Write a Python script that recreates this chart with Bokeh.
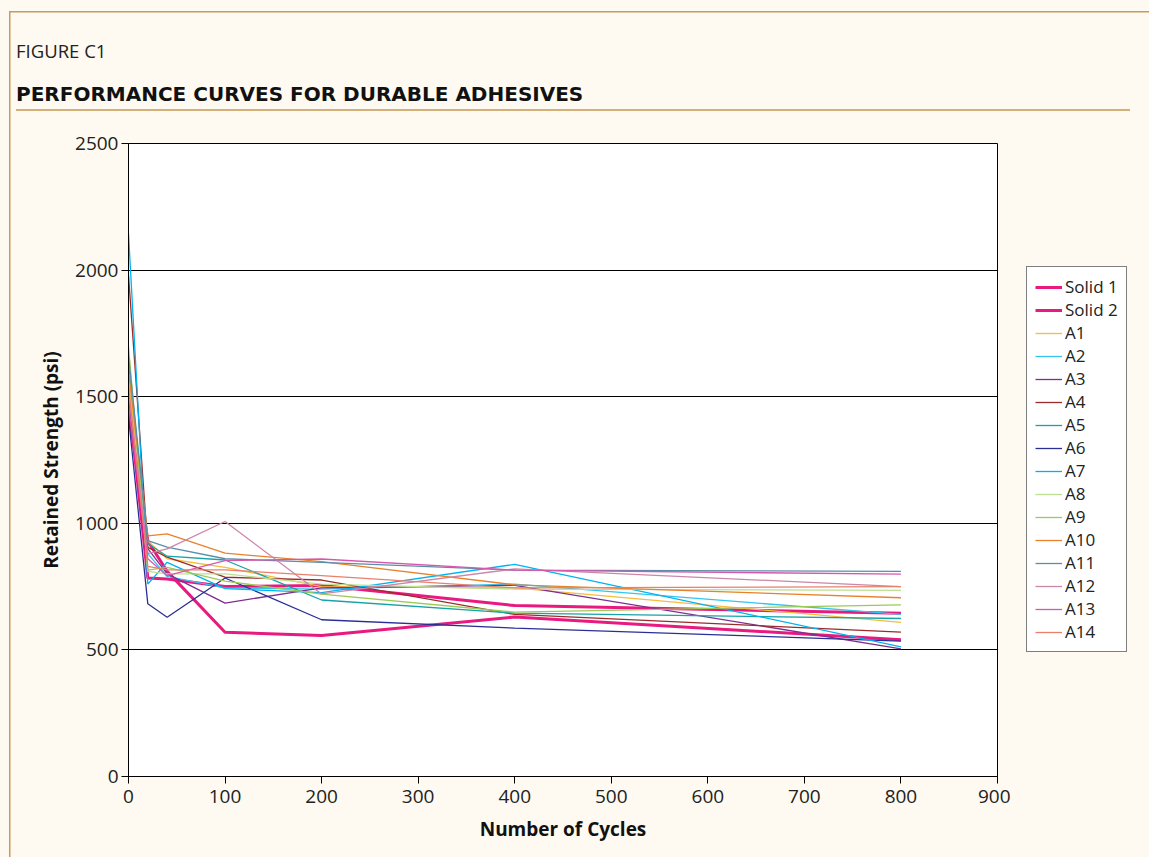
from bokeh.plotting import figure
from bokeh.layouts import column, row
from bokeh.models import Range1d, SingleIntervalTicker, Legend, LegendItem, Div
from bokeh.embed import file_html
from bokeh.resources import INLINE

# ---------------- data ----------------
cycles = [0, 20, 40, 100, 200, 400, 800]
solid1 = [1450, 930, 810, 570, 557, 630, 540]
solid2 = [1500, 784, 780, 750, 754, 675, 645]
a1 = [1560, 930, 860, 826, 750, 745, 609]
a2 = [1650, 880, 790, 745, 740, 760, 640]
a3 = [1480, 900, 800, 685, 745, 755, 504]
a4 = [1979, 905, 866, 787, 776, 640, 570]
a5 = [1640, 920, 870, 855, 697, 645, 624]
a6 = [1420, 682, 629, 784, 619, 586, 535]
a7 = [2144, 760, 846, 742, 726, 838, 512]
a8 = [1700, 810, 800, 800, 760, 740, 735]
a9 = [1690, 815, 826, 772, 720, 649, 678]
a10 = [1600, 950, 958, 882, 849, 757, 706]
a11 = [1660, 932, 906, 860, 846, 815, 810]
a12 = [1520, 880, 899, 1007, 721, 820, 750]
a13 = [1470, 860, 793, 853, 859, 815, 799]
a14 = [1540, 830, 816, 816, 793, 745, 750]

series_names = ["Solid 1", "Solid 2", "A1", "A2", "A3", "A4", "A5", "A6", "A7",
                "A8", "A9", "A10", "A11", "A12", "A13", "A14"]
series_values = [solid1, solid2, a1, a2, a3, a4, a5, a6, a7, a8, a9, a10, a11, a12, a13, a14]
series_colors = ["#e8197f", "#e8197f", "#f5bd3a", "#35c4f0", "#7e2f8e", "#9a2b2b",
                 "#17a2a6", "#2a2f96", "#00b2f0", "#bddf91", "#9acb56", "#e8822c",
                 "#5b8ea8", "#cc86a8", "#d658ac", "#e8806c"]
series_widths = [3, 3] + [1.3] * 14

FONT = "Open Sans"
CREAM = "#fefaf1"
FRAME = "#c99a5a"
W = 1149
HEADER_H = 125
TOTAL_H = 857
CHART_H = TOTAL_H - HEADER_H
CHART_W = 1010

# ---------------- header ----------------
header_html = (
    f'<div style="position:relative;width:{W}px;height:{HEADER_H}px;">'
    '<div style="position:absolute;left:16px;top:40px;font-family:\'Open Sans\';'
    'font-size:18.5px;line-height:22px;color:#222;white-space:nowrap;">FIGURE C1</div>'
    '<div style="position:absolute;left:16px;top:82px;font-family:\'DejaVu Sans\';'
    'font-weight:bold;font-size:20px;line-height:25px;color:#111;white-space:nowrap;">'
    'PERFORMANCE CURVES FOR DURABLE ADHESIVES</div>'
    '<div style="position:absolute;left:16px;top:109px;width:1114px;height:0;'
    'border-top:2px solid #d2b07a;"></div>'
    '</div>'
)
head = Div(text=header_html, width=W, height=HEADER_H, margin=0)

# ---------------- main chart ----------------
p = figure(width=CHART_W, height=CHART_H, output_backend="svg", toolbar_location=None,
           x_range=Range1d(0, 900), y_range=Range1d(0, 2500),
           min_border_left=128, min_border_right=CHART_W - 997,
           min_border_top=143 - HEADER_H, min_border_bottom=TOTAL_H - 776, margin=0)
p.background_fill_color = "white"
p.border_fill_alpha = 0
p.outline_line_color = "black"
p.outline_line_width = 1

for vals, col, w in zip(series_values, series_colors, series_widths):
    p.line(cycles, vals, line_color=col, line_width=w)

p.xaxis.ticker = SingleIntervalTicker(interval=100)
p.yaxis.ticker = SingleIntervalTicker(interval=500)
for ax in (p.xaxis, p.yaxis):
    ax.minor_tick_line_color = None
    ax.axis_line_color = "black"
    ax.major_tick_line_color = "black"
    ax.major_tick_in = 0
    ax.major_tick_out = 7
    ax.major_label_text_font = FONT
    ax.major_label_text_font_size = "19px"
    ax.major_label_text_color = "#222222"
    ax.axis_label_text_font = FONT
    ax.axis_label_text_font_size = "19px"
    ax.axis_label_text_font_style = "bold"
    ax.axis_label_text_color = "#111111"
p.xaxis.axis_label = "Number of Cycles"
p.yaxis.axis_label = "Retained Strength (psi)"
p.xaxis.major_label_standoff = 6
p.xaxis.axis_label_standoff = 10
p.yaxis.major_label_standoff = 3
p.yaxis.axis_label_standoff = 8

p.xgrid.grid_line_color = None
p.ygrid.grid_line_color = "black"
p.ygrid.grid_line_width = 1

# ---------------- legend panel (frame aligned with the chart's frame) ----------------
LW = W - CHART_W
lf = figure(width=LW, height=CHART_H, output_backend="svg", toolbar_location=None,
            x_range=Range1d(0, 1), y_range=Range1d(0, 1),
            x_axis_type=None, y_axis_type=None, min_border=0, margin=0)
lf.outline_line_color = None
lf.background_fill_alpha = 0
lf.border_fill_alpha = 0
lf.grid.grid_line_color = None
items = []
for name, col, w in zip(series_names, series_colors, series_widths):
    # single off-range point: nothing is drawn, the renderer only styles the legend key
    r = lf.line(x=[-1], y=[-1], line_color=col, line_width=w)
    items.append(LegendItem(label=name, renderers=[r]))

legend = Legend(items=items, location=(1026 - CHART_W, 776 - 652))
legend.label_text_font = FONT
legend.label_text_font_size = "17px"
legend.label_text_color = "#222222"
legend.glyph_width = 27
legend.glyph_height = 20
legend.label_height = 20
legend.spacing = 0
legend.padding = 8
legend.margin = 0
legend.label_standoff = 3
legend.border_line_color = "black"
legend.border_line_width = 1
legend.background_fill_color = "white"
legend.background_fill_alpha = 1
lf.add_layout(legend, "center")

page_bg = (f"linear-gradient({FRAME}, {FRAME}) 9px 11px / 1.5px 100% no-repeat, "
           f"linear-gradient({FRAME}, {FRAME}) 9px 11px / 100% 1.5px no-repeat, {CREAM}")
layout = column(head, row(p, lf, spacing=0, margin=0), spacing=0, margin=0,
                styles={"background": page_bg})

open("out.html", "w").write(file_html(layout, INLINE))
